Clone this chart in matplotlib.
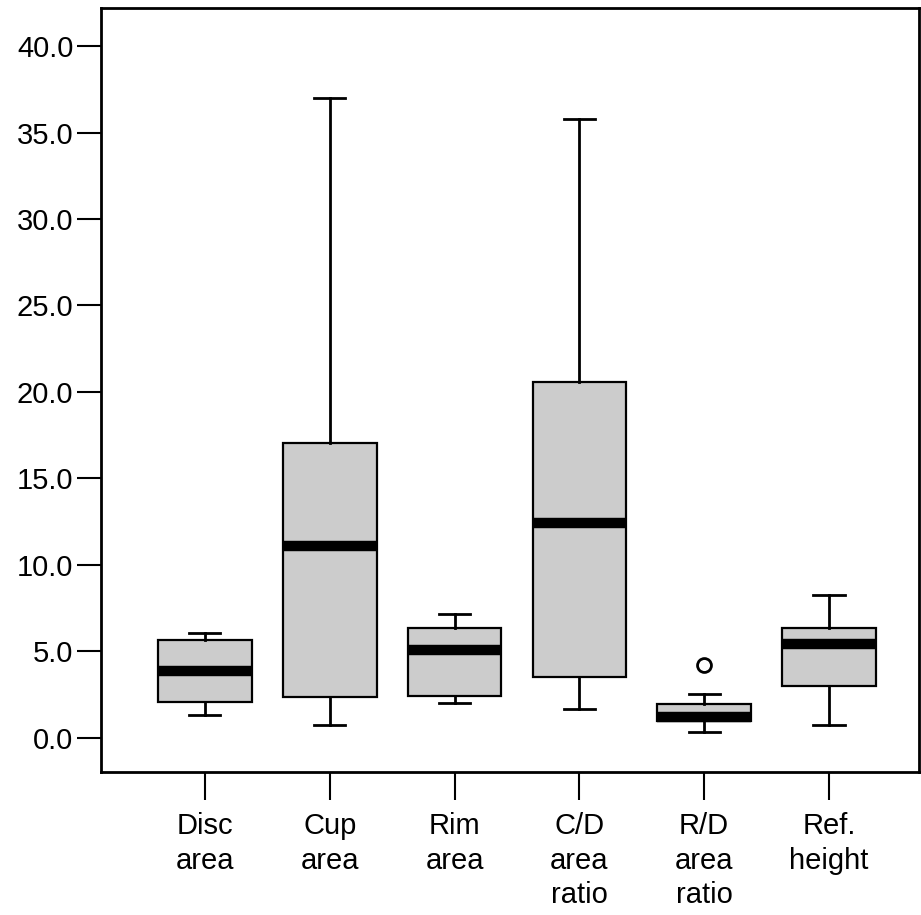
import matplotlib
matplotlib.use("Agg")
import matplotlib.pyplot as plt

categories = ["Disc\narea", "Cup\narea", "Rim\narea", "C/D\narea\nratio", "R/D\narea\nratio", "Ref.\nheight"]
whislo = [1.33, 0.75, 2.02, 1.68, 0.35, 0.75]
q1 = [2.05, 2.37, 2.43, 3.53, 0.98, 3.0]
med = [3.87, 11.1, 5.09, 12.4, 1.21, 5.43]
q3 = [5.66, 17.05, 6.36, 20.6, 1.97, 6.36]
whishi = [6.07, 37.0, 7.17, 35.8, 2.54, 8.27]
fliers = [[], [], [], [], [4.22], []]
yticks = [0, 5, 10, 15, 20, 25, 30, 35, 40]

fig = plt.figure(figsize=(9.21, 9.15), dpi=100)
ax = fig.add_axes([0.1097, 0.1563, 0.888, 0.835])

stats = []
for i in range(len(categories)):
    stats.append(dict(whislo=whislo[i], q1=q1[i], med=med[i], q3=q3[i],
                      whishi=whishi[i], fliers=fliers[i], label=categories[i]))

pos = list(range(1, len(categories) + 1))
ax.bxp(stats, positions=pos, widths=0.75, patch_artist=True, showfliers=True,
       boxprops=dict(facecolor="#cccccc", edgecolor="black", linewidth=1.6),
       medianprops=dict(color="black", linewidth=7.5, solid_capstyle="butt"),
       whiskerprops=dict(color="black", linewidth=2),
       capprops=dict(color="black", linewidth=2),
       capwidths=0.25,
       flierprops=dict(marker="o", markerfacecolor="white", markeredgecolor="black",
                       markersize=10, markeredgewidth=2))

ax.set_xlim(0.168, 6.72)
ax.set_ylim(-1.97, 42.2)
ax.set_yticks(yticks)
ax.set_yticklabels([f"{v:.1f}" for v in yticks], fontfamily="Liberation Sans", fontsize=21)
ax.set_xticks(pos)
ax.set_xticklabels(categories, fontfamily="Liberation Sans", fontsize=21, linespacing=1.3, va="top")
ax.tick_params(axis="y", length=17, width=1.5, pad=3)
ax.tick_params(axis="x", length=20, width=1.5, pad=9)
for s in ax.spines.values():
    s.set_linewidth(2)

fig.savefig("out.png", dpi=100)
